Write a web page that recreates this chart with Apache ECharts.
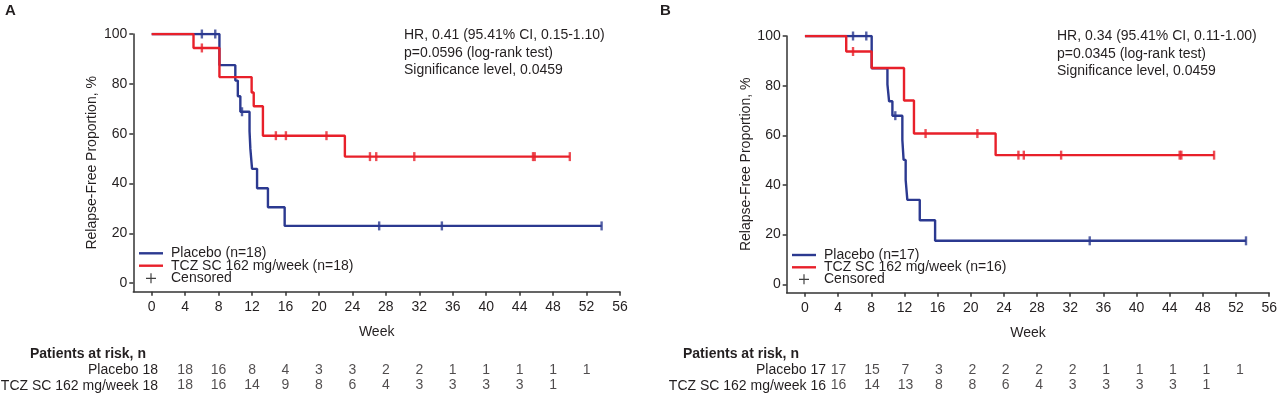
<!DOCTYPE html>
<html><head><meta charset="utf-8">
<script src="https://cdn.jsdelivr.net/npm/echarts@6/dist/echarts.min.js"></script>
<style>html,body{margin:0;padding:0;background:#fff}#c{width:1280px;height:393px}</style>
</head><body><div id="c"></div>
<script>
// ---------- DATA ----------
const weekTicks = [0,4,8,12,16,20,24,28,32,36,40,44,48,52,56];
const yTicks = [0,20,40,60,80,100];
const riskWeeks = [0,4,8,12,16,20,24,28,32,36,40,44,48,52];

// Panel A – Kaplan-Meier steps (week, relapse-free %)
const aPlaceboT = [0, 8.1, 10.0, 10.3, 10.6, 11.7, 11.8, 12.0, 12.6, 13.9, 15.9, 53.8];
const aPlaceboS = [100, 87.5, 81.3, 75.0, 68.8, 61.0, 53.9, 45.9, 38.1, 30.5, 23.0, 23.0];
const aPlaceboCens = [6.0, 7.6, 10.8, 27.2, 34.7, 53.8];
const aTczT = [0, 5.0, 8.1, 11.95, 12.2, 13.3, 23.1, 50.0];
const aTczS = [100, 94.4, 82.7, 76.5, 71.0, 59.2, 50.8, 50.8];
const aTczCens = [6.0, 14.85, 16.05, 20.9, 26.1, 26.85, 31.4, 45.6, 45.8, 50.0];

// Panel B
const bPlaceboT = [0, 8.05, 9.95, 10.15, 10.55, 11.75, 11.9, 12.15, 12.35, 13.85, 15.7, 53.2];
const bPlaceboS = [100, 87.0, 80.5, 73.7, 67.9, 58.1, 50.1, 42.0, 34.0, 25.8, 17.5, 17.5];
const bPlaceboCens = [5.8, 7.4, 10.9, 34.35, 53.2];
const bTczT = [0, 4.98, 8.05, 11.95, 13.15, 23.0, 49.35];
const bTczS = [100, 93.75, 87.1, 74.0, 60.7, 52.0, 52.0];
const bTczCens = [5.8, 14.55, 20.8, 25.75, 26.4, 30.9, 45.2, 45.4, 49.35];

// Patients at risk
const aRiskPlacebo = [18,18,16,8,4,3,3,2,2,1,1,1,1,1];
const aRiskTcz = [18,18,16,14,9,8,6,4,3,3,3,3,1];
const bRiskPlacebo = [17,17,15,7,3,2,2,2,2,1,1,1,1,1];
const bRiskTcz = [16,16,14,13,8,8,6,4,3,3,3,3,1];

const aLegend = ['Placebo (n=18)', 'TCZ SC 162 mg/week (n=18)', 'Censored'];
const bLegend = ['Placebo (n=17)', 'TCZ SC 162 mg/week (n=16)', 'Censored'];
const rowNames = ['Placebo', 'TCZ SC 162 mg/week'];
const aStats = ['HR, 0.41 (95.41% CI, 0.15-1.10)', 'p=0.0596 (log-rank test)', 'Significance level, 0.0459'];
const bStats = ['HR, 0.34 (95.41% CI, 0.11-1.00)', 'p=0.0345 (log-rank test)', 'Significance level, 0.0459'];

// ---------- BUILD ----------
const FONT = '"Liberation Sans", Arial, sans-serif';
const TXT = '#231f20';
const BLUE = '#2b3990';
const RED = '#e8202a';
const AX = '#333333';

function pairs(t, s){ return t.map((v,i)=>[v, s[i]]); }
function level(t, s, x){ let v = s[0]; for (let i=0;i<t.length;i++){ if (t[i] <= x) v = s[i]; } return v; }
function cens(t, s, c){ return c.map(x => [x, level(t, s, x)]); }
function risk(vals, row){ return vals.slice(1).map((v,i)=>[riskWeeks[i+1], row, v]); }

const plus = 'path://M0,4.4 H10 V5.6 H0 Z M4.4,0 H5.6 V10 H4.4 Z';
const bar = 'path://M0,0 H24 V2.4 H0 Z';

function plotX(gi){
  return {gridIndex: gi, type:'value', min:-2.2, max:56,
    name:'Week', nameLocation:'middle', nameGap:33,
    nameTextStyle:{fontSize:14, color:TXT, fontFamily:FONT},
    axisLine:{show:true, onZero:false, lineStyle:{color:AX, width:1.5}},
    axisTick:{show:true, length:4, customValues: weekTicks, lineStyle:{color:AX, width:1.5}},
    axisLabel:{customValues: weekTicks, fontSize:14, color:TXT, fontFamily:FONT, margin:8},
    splitLine:{show:false}};
}
function plotY(gi){
  return {gridIndex: gi, type:'value', min:-3.4, max:100,
    name:'Relapse-Free Proportion, %', nameLocation:'middle', nameGap:34,
    nameTextStyle:{fontSize:14, color:TXT, fontFamily:FONT},
    axisLine:{show:true, onZero:false, lineStyle:{color:AX, width:1.5}},
    axisTick:{show:true, length:4, customValues: yTicks, lineStyle:{color:AX, width:1.5}},
    axisLabel:{customValues: yTicks, fontSize:14, color:TXT, fontFamily:FONT, margin:6},
    splitLine:{show:false}};
}
function kmLine(name, gi, t, s, color){
  return {type:'line', name, xAxisIndex:gi, yAxisIndex:gi, step:'end', symbol:'none',
    lineStyle:{color, width:2.4}, itemStyle:{color}, data: pairs(t,s), z:3, animation:false};
}
function censSeries(name, gi, t, s, c, color){
  return {type:'scatter', name, xAxisIndex:gi, yAxisIndex:gi, symbol:'rect', symbolSize:[2.4, 9],
    itemStyle:{color}, data: cens(t,s,c), z:4, animation:false};
}
function riskSeries(gi, vals, row){
  return {type:'scatter', xAxisIndex:gi, yAxisIndex:gi, symbolSize:1, itemStyle:{color:'transparent'},
    label:{show:true, position:'inside', formatter: p => String(p.value[2]), fontSize:14, color:TXT, fontFamily:FONT},
    data: risk(vals, row), animation:false, silent:true};
}
function legendItem(left, centerY, name){
  const isC = name === 'Censored';
  return {left: isC ? left + 7 : left, top: centerY - 7, padding:0, orient:'vertical', itemWidth:24, itemHeight:10, selectedMode:false,
    textStyle:{fontSize:14, color:TXT, fontFamily:FONT, lineHeight:14, padding:[0,0,0,3]},
    data: [{name, icon: isC ? plus : bar}]};
}
function txt(x, y, text, opts){
  return {type:'text', x, y, style:Object.assign({text, fill:TXT, font:'14px '+FONT}, opts||{}), silent:true};
}

const chart = echarts.init(document.getElementById('c'), null, {renderer:'canvas'});
chart.setOption({
  animation:false,
  backgroundColor:'#fff',
  textStyle:{fontFamily:FONT, color:TXT},
  grid:[
    {left:133.3, top:34, width:486.7, height:257.7},
    {left:786.7, top:36, width:486.6, height:256.7},
    {left:133.3, top:362, width:486.7, height:32},
    {left:786.7, top:362, width:486.6, height:32}
  ],
  xAxis:[ plotX(0), plotX(1),
    {gridIndex:2, type:'value', min:-2.2, max:56, show:false},
    {gridIndex:3, type:'value', min:-2.2, max:56, show:false} ],
  yAxis:[ plotY(0), plotY(1),
    {gridIndex:2, type:'category', data:rowNames, inverse:true, show:false},
    {gridIndex:3, type:'category', data:rowNames, inverse:true, show:false} ],
  legend:[
    legendItem(139, 253.3, aLegend[0]), legendItem(139, 265.7, aLegend[1]), legendItem(139, 278.3, aLegend[2]),
    legendItem(792, 255, bLegend[0]), legendItem(792, 267.3, bLegend[1]), legendItem(792, 279.3, bLegend[2])
  ],
  series:[
    kmLine(aLegend[0], 0, aPlaceboT, aPlaceboS, BLUE),
    kmLine(aLegend[1], 0, aTczT, aTczS, RED),
    censSeries('cA1', 0, aPlaceboT, aPlaceboS, aPlaceboCens, BLUE),
    censSeries('cA2', 0, aTczT, aTczS, aTczCens, RED),
    {type:'scatter', name:'Censored', xAxisIndex:0, yAxisIndex:0, symbol:plus, itemStyle:{color:'#111'}, data:[]},
    kmLine(bLegend[0], 1, bPlaceboT, bPlaceboS, BLUE),
    kmLine(bLegend[1], 1, bTczT, bTczS, RED),
    censSeries('cB1', 1, bPlaceboT, bPlaceboS, bPlaceboCens, BLUE),
    censSeries('cB2', 1, bTczT, bTczS, bTczCens, RED),
    riskSeries(2, aRiskPlacebo, rowNames[0]),
    riskSeries(2, aRiskTcz, rowNames[1]),
    riskSeries(3, bRiskPlacebo, rowNames[0]),
    riskSeries(3, bRiskTcz, rowNames[1])
  ],
  graphic:[
    txt(5, 3, 'A', {font:'bold 15px '+FONT}),
    txt(660, 3, 'B', {font:'bold 15px '+FONT}),
    txt(404, 27, aStats.join('\n'), {lineHeight:17.2}),
    txt(1057, 28, bStats.join('\n'), {lineHeight:17.2}),
    txt(30, 347, 'Patients at risk, n', {font:'bold 14px '+FONT}),
    txt(683, 347, 'Patients at risk, n', {font:'bold 14px '+FONT}),
    txt(158, 370, rowNames[0]+' '+aRiskPlacebo[0], {align:'right', verticalAlign:'middle'}),
    txt(158, 386, rowNames[1]+' '+aRiskTcz[0], {align:'right', verticalAlign:'middle'}),
    txt(826, 370, rowNames[0]+' '+bRiskPlacebo[0], {align:'right', verticalAlign:'middle'}),
    txt(826, 386, rowNames[1]+' '+bRiskTcz[0], {align:'right', verticalAlign:'middle'})
  ]
});
</script>
</body></html>
